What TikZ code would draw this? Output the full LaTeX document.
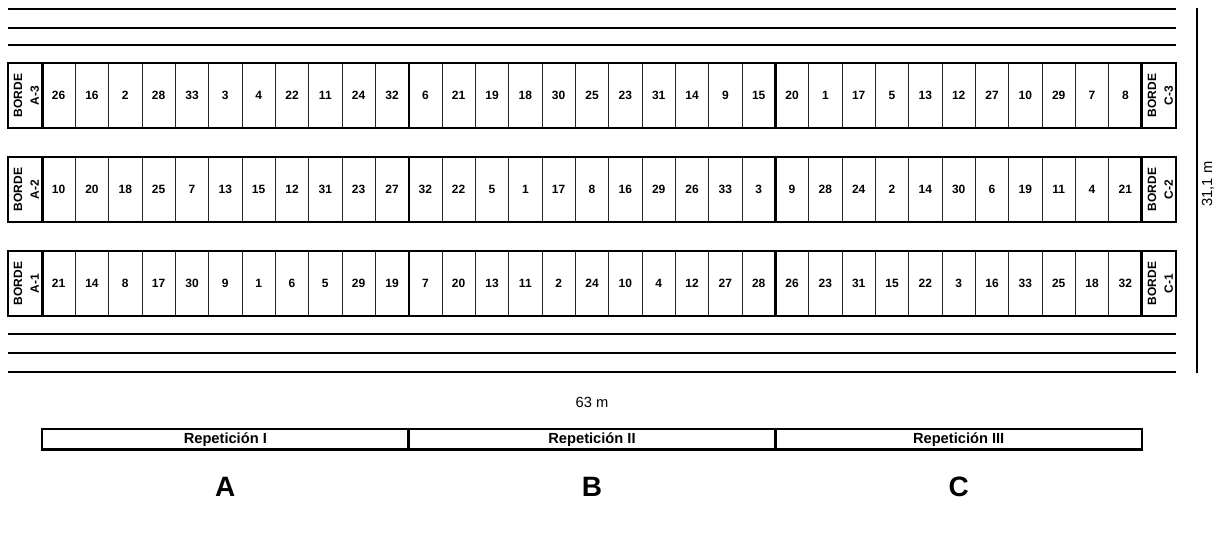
\documentclass[tikz,border=0pt]{standalone}
\usepackage{fontspec}
\setmainfont{Liberation Sans}
\begin{document}
\begin{tikzpicture}[x=0.75pt,y=-0.75pt,
  cell/.style={draw=black!85,line width=0.6pt,minimum width=25pt,minimum height=48.4pt,inner sep=0pt,font=\bfseries\fontsize{9}{10}\selectfont},
  bordecell/.style={draw=black!85,line width=0.6pt,minimum width=25.5pt,minimum height=48.4pt,inner sep=0pt},
  bordetext/.style={rotate=90,inner sep=0pt,align=center,font=\bfseries\fontsize{9}{12.5}\selectfont},
  frame/.style={line width=1.5pt},
  sep/.style={line width=1.9pt},
  field/.style={line width=1.5pt},
  rep/.style={draw,line width=2pt,minimum width=275pt,minimum height=15.3pt,inner sep=0pt,font=\bfseries\fontsize{11}{12}\selectfont},
  big/.style={font=\bfseries\fontsize{21}{24}\selectfont,inner sep=0pt},
  dim/.style={font=\fontsize{11}{12}\selectfont,inner sep=0pt}
]
\useasboundingbox (0,0) rectangle (1221,533);
% field lines
\foreach \yy in {8.5,27.5,44.5,334,353,372}
  \draw[field] (8,\yy) -- (1176,\yy);
% rows
\foreach \r/\yc/\vals in {3/95.5/{26,16,2,28,33,3,4,22,11,24,32,6,21,19,18,30,25,23,31,14,9,15,20,1,17,5,13,12,27,10,29,7,8},
                          2/189.5/{10,20,18,25,7,13,15,12,31,23,27,32,22,5,1,17,8,16,29,26,33,3,9,28,24,2,14,30,6,19,11,4,21},
                          1/283.5/{21,14,8,17,30,9,1,6,5,29,19,7,20,13,11,2,24,10,4,12,27,28,26,23,31,15,22,3,16,33,25,18,32}}{
  \node[bordecell] (bA\r) at (25,\yc) {};
  \node[bordetext] at ([xshift=1pt]bA\r.center) {BORDE\\A-\r};
  \node[bordecell] (bC\r) at (1159,\yc) {};
  \node[bordetext] at ([xshift=1pt]bC\r.center) {BORDE\\C-\r};
  \foreach \v [count=\i] in \vals {
    \node[cell] (c\r-\i) at ({42+(\i-0.5)*33.3333},\yc) {\v};
  }
  \draw[frame] (bA\r.north west) rectangle (bC\r.south east);
  \draw[sep] (bA\r.north east) -- (bA\r.south east);
  \draw[sep] (bC\r.north west) -- (bC\r.south west);
  \draw[sep] (c\r-11.north east) -- (c\r-11.south east);
  \draw[sep] (c\r-22.north east) -- (c\r-22.south east);
}
% dimensions
\coordinate (vt) at (1197,8);
\coordinate (vb) at (1197,372.5);
\draw[line width=1.5pt] (vt) -- (vb);
\node[dim,rotate=90] (h) at (1208,184) {31,1 m};
\node[dim] (w) at (592,402) {63 m};
% repetitions
\node[rep] (r1) at (225.33,439.3) {Repetición I};
\node[rep] (r2) at (592,439.3) {Repetición II};
\node[rep] (r3) at (958.67,439.3) {Repetición III};
\node[big] (la) at (225.33,487) {A};
\node[big] (lb) at (592,487) {B};
\node[big] (lc) at (958.67,487) {C};
\end{tikzpicture}
\end{document}
